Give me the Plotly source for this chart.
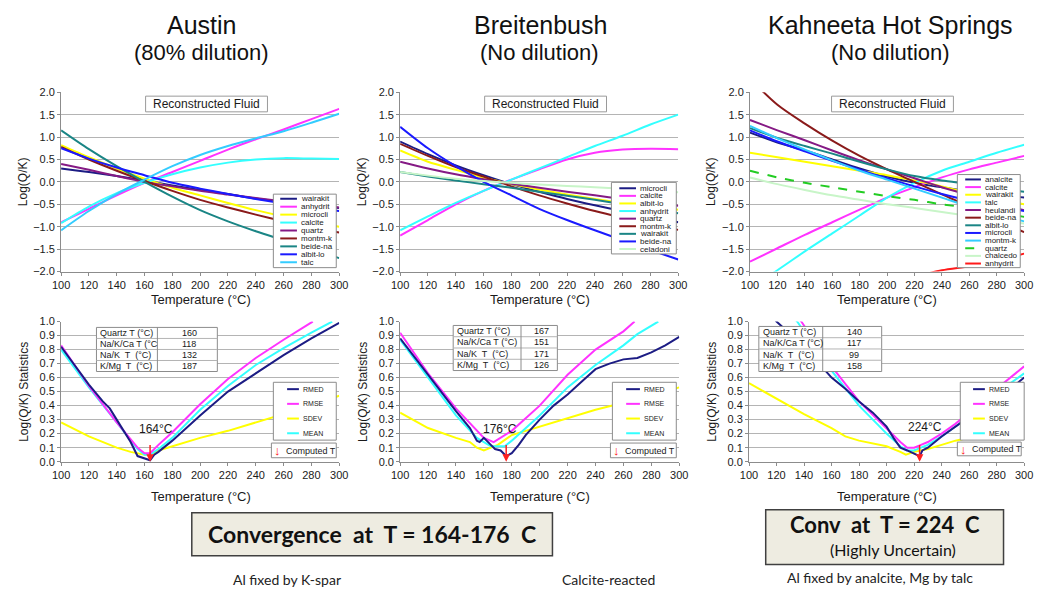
import plotly.graph_objects as go

W, H = 1043, 598

TEMP = [100, 120, 140, 160, 180, 200, 220, 240, 260, 280, 300]

# ---------------- Austin: saturation indices ----------------
AUS_NAMES = ["wairakit", "anhydrit", "microcli", "calcite", "quartz",
             "montm-k", "beide-na", "albit-lo", "talc"]
aus_wairakit = [0.30, 0.22, 0.13, 0.03, -0.08, -0.18, -0.27, -0.37, -0.45, -0.52, -0.58]
aus_anhydrit = [-0.90, -0.60, -0.30, -0.02, 0.22, 0.47, 0.72, 0.95, 1.17, 1.40, 1.63]
aus_microcli = [0.82, 0.55, 0.30, 0.07, -0.13, -0.30, -0.47, -0.63, -0.77, -0.89, -1.00]
aus_calcite = [-0.92, -0.55, -0.25, -0.02, 0.17, 0.32, 0.43, 0.50, 0.53, 0.52, 0.51]
aus_quartz = [0.40, 0.27, 0.13, 0.00, -0.10, -0.20, -0.28, -0.36, -0.43, -0.50, -0.57]
aus_montmk = [0.78, 0.50, 0.25, 0.02, -0.20, -0.40, -0.57, -0.73, -0.88, -1.02, -1.13]
aus_beidena = [1.15, 0.73, 0.35, 0.00, -0.33, -0.63, -0.88, -1.10, -1.30, -1.50, -1.70]
aus_albitlo = [0.75, 0.52, 0.32, 0.15, -0.02, -0.15, -0.27, -0.38, -0.48, -0.57, -0.65]
aus_talc = [-1.08, -0.65, -0.27, 0.05, 0.35, 0.60, 0.80, 0.97, 1.13, 1.32, 1.52]

# ---------------- Breitenbush: saturation indices ----------------
BRE_NAMES = ["microcli", "calcite", "albit-lo", "anhydrit", "quartz",
             "montm-k", "wairakit", "beide-na", "celadoni"]
bre_microcli = [0.90, 0.62, 0.37, 0.15, -0.05, -0.22, -0.38, -0.52, -0.65, -0.77, -0.90]
bre_calcite = [-1.20, -0.85, -0.50, -0.20, 0.05, 0.28, 0.50, 0.65, 0.72, 0.74, 0.73]
bre_albitlo = [0.70, 0.45, 0.27, 0.10, -0.05, -0.17, -0.28, -0.38, -0.47, -0.55, -0.62]
bre_anhydrit = [-1.08, -0.77, -0.47, -0.20, 0.05, 0.30, 0.55, 0.80, 1.03, 1.28, 1.50]
bre_quartz = [0.45, 0.30, 0.17, 0.06, -0.04, -0.13, -0.22, -0.30, -0.38, -0.46, -0.53]
bre_montmk = [0.85, 0.58, 0.33, 0.12, -0.10, -0.30, -0.48, -0.65, -0.80, -0.94, -1.07]
bre_wairakit = [0.22, 0.12, 0.03, -0.05, -0.13, -0.22, -0.31, -0.40, -0.50, -0.60, -0.70]
bre_beidena = [1.23, 0.75, 0.35, 0.00, -0.30, -0.60, -0.85, -1.08, -1.30, -1.52, -1.73]
bre_celadoni = [0.22, 0.14, 0.07, 0.02, -0.02, -0.06, -0.09, -0.12, -0.15, -0.19, -0.23]

# ---------------- Kahneeta Hot Springs: saturation indices ----------------
KAH_NAMES = ["analcite", "calcite", "wairakit", "talc", "heulandi", "beide-na",
             "albit-lo", "microcli", "montm-k", "quartz", "chalcedo", "anhydrit"]
kah_analcite = [1.10, 0.88, 0.70, 0.50, 0.30, 0.12, -0.02, -0.12, -0.22, -0.29, -0.35]
kah_calcite = [-1.78, -1.48, -1.18, -0.90, -0.62, -0.35, -0.12, 0.10, 0.28, 0.43, 0.58]
kah_wairakit = [0.65, 0.55, 0.45, 0.35, 0.25, 0.15, 0.03, -0.10, -0.25, -0.38, -0.50]
kah_talc = [-2.35, -1.97, -1.55, -1.15, -0.75, -0.35, -0.02, 0.25, 0.45, 0.65, 0.83]
kah_heulandi = [1.38, 1.15, 0.93, 0.70, 0.48, 0.28, 0.08, -0.12, -0.30, -0.48, -0.63]
kah_beidena = [2.30, 1.72, 1.30, 0.92, 0.58, 0.28, 0.00, -0.28, -0.55, -0.85, -1.12]
kah_albitlo = [1.20, 0.98, 0.80, 0.63, 0.45, 0.28, 0.13, 0.03, -0.05, -0.14, -0.22]
kah_microcli = [1.15, 0.90, 0.68, 0.47, 0.27, 0.08, -0.10, -0.27, -0.42, -0.55, -0.65]
kah_montmk = [1.25, 0.97, 0.72, 0.48, 0.25, 0.05, -0.15, -0.35, -0.55, -0.72, -0.88]
kah_quartz = [0.25, 0.10, -0.02, -0.12, -0.22, -0.32, -0.40, -0.50, -0.58, -0.68, -0.78]
kah_chalcedo = [0.10, -0.05, -0.18, -0.30, -0.40, -0.50, -0.58, -0.67, -0.76, -0.85, -0.93]
KAH_ANHY_T = [220, 240, 260, 280, 300]
kah_anhydrit = [-2.12, -1.97, -1.88, -1.76, -1.60]

# ---------------- Statistics: Austin ----------------
AUS_RMED_T = [100, 120, 130, 135, 140, 150, 155, 158, 162, 164, 167, 170, 180, 200, 220, 240, 260, 280, 300]
aus_rmed = [0.82, 0.55, 0.43, 0.38, 0.30, 0.14, 0.04, 0.03, 0.02, 0.01, 0.05, 0.07, 0.15, 0.33, 0.50, 0.63, 0.76, 0.88, 0.99]
AUS_RMSE_T = [100, 120, 140, 155, 160, 164, 170, 180, 200, 220, 240, 260, 281]
aus_rmse = [0.83, 0.54, 0.28, 0.10, 0.06, 0.06, 0.12, 0.21, 0.41, 0.59, 0.74, 0.87, 1.00]
AUS_SDEV_T = [100, 120, 140, 150, 160, 165, 170, 180, 200, 220, 240, 260, 280, 300]
aus_sdev = [0.28, 0.18, 0.10, 0.07, 0.05, 0.05, 0.08, 0.11, 0.17, 0.22, 0.28, 0.34, 0.40, 0.47]
AUS_MEAN_T = [100, 120, 140, 155, 160, 164, 170, 180, 200, 220, 240, 260, 280, 295]
aus_mean = [0.80, 0.53, 0.28, 0.09, 0.05, 0.05, 0.09, 0.17, 0.37, 0.54, 0.69, 0.81, 0.92, 1.00]

# ---------------- Statistics: Breitenbush ----------------
BRE_RMED_T = [100, 120, 140, 150, 155, 157, 160, 165, 168, 172, 176, 180, 185, 190, 200, 210, 220, 230, 240, 250, 260, 270, 280, 290, 300]
bre_rmed = [0.88, 0.62, 0.36, 0.24, 0.15, 0.14, 0.17, 0.12, 0.09, 0.08, 0.04, 0.06, 0.12, 0.19, 0.30, 0.40, 0.48, 0.57, 0.66, 0.70, 0.73, 0.74, 0.78, 0.83, 0.89]
BRE_RMSE_T = [100, 120, 140, 155, 160, 167, 175, 180, 200, 220, 240, 260, 268]
bre_rmse = [0.92, 0.63, 0.38, 0.22, 0.17, 0.14, 0.19, 0.22, 0.40, 0.62, 0.80, 0.93, 1.00]
BRE_SDEV_T = [100, 120, 140, 150, 155, 160, 165, 170, 180, 200, 220, 240, 260, 280, 300]
bre_sdev = [0.35, 0.24, 0.17, 0.14, 0.10, 0.08, 0.10, 0.12, 0.19, 0.25, 0.31, 0.37, 0.42, 0.47, 0.53]
BRE_MEAN_T = [100, 120, 140, 155, 165, 175, 180, 200, 220, 240, 260, 270, 285]
bre_mean = [0.87, 0.60, 0.33, 0.17, 0.11, 0.11, 0.15, 0.33, 0.53, 0.69, 0.83, 0.91, 1.00]

# ---------------- Statistics: Kahneeta ----------------
KAH_RMED_T = [100, 120, 140, 160, 170, 180, 190, 200, 205, 210, 215, 220, 224, 226, 230, 240, 250, 260, 270, 280, 290, 300]
kah_rmed = [1.25, 1.00, 0.82, 0.60, 0.52, 0.43, 0.35, 0.25, 0.17, 0.10, 0.08, 0.06, 0.04, 0.08, 0.10, 0.18, 0.25, 0.32, 0.38, 0.45, 0.52, 0.60]
KAH_RMSE_T = [100, 120, 138, 160, 180, 200, 210, 215, 220, 225, 230, 240, 250, 260, 270, 280, 290, 300]
kah_rmse = [1.45, 1.22, 1.00, 0.68, 0.43, 0.24, 0.14, 0.10, 0.10, 0.12, 0.14, 0.20, 0.27, 0.35, 0.43, 0.52, 0.60, 0.68]
KAH_SDEV_T = [100, 120, 140, 160, 170, 180, 190, 200, 210, 214, 220, 230, 240, 250, 260, 280, 300]
kah_sdev = [0.56, 0.45, 0.34, 0.24, 0.18, 0.15, 0.13, 0.11, 0.07, 0.05, 0.07, 0.09, 0.12, 0.15, 0.17, 0.21, 0.28]
KAH_MEAN_T = [100, 120, 135, 160, 180, 200, 210, 215, 220, 225, 230, 240, 250, 260, 270, 280, 290, 300]
kah_mean = [1.40, 1.17, 1.00, 0.65, 0.40, 0.20, 0.11, 0.08, 0.08, 0.10, 0.12, 0.18, 0.25, 0.32, 0.40, 0.48, 0.56, 0.63]

# Computed temperatures
COMPUTED_T = [164, 176, 224]

# Geothermometer tables
GEO_LABELS_AUS = ["Quartz T (°C)", "Na/K/Ca T (°C", "Na/K  T  (°C)", "K/Mg  T  (°C)"]
GEO_LABELS = ["Quartz T (°C)", "Na/K/Ca T (°C)", "Na/K  T  (°C)", "K/Mg  T  (°C)"]
aus_geo = [160, 118, 132, 187]
bre_geo = [167, 151, 171, 126]
kah_geo = [140, 117, 99, 158]

# Excel-style palette
NAVY, MAGENTA, YELLOW, CYAN = "#1c1c84", "#ff33ff", "#ffff00", "#33ffff"
PURPLE, DKRED, TEAL, BLUE = "#851a85", "#8a1a1a", "#1a8585", "#1a1aff"
SKY, LTGREEN, GREEN, RED = "#33ccff", "#c8f5c8", "#22cc22", "#ff1a1a"

AXFONT = "Liberation Sans, Arial, sans-serif"
HEADFONT = "Lato, 'Open Sans', sans-serif"


def px(x):
    return x / W


def py(y):
    return 1 - y / H


fig = go.Figure()
shapes = []
annotations = []


def add_series(ax, xs, ys, color, name, dash="solid", width=2, shape="spline"):
    suffix = "" if ax == 1 else str(ax)
    fig.add_trace(go.Scatter(
        x=xs, y=ys, mode="lines", name=name, showlegend=False,
        line=dict(color=color, width=width, dash=dash, shape=shape, smoothing=0.8),
        xaxis="x" + suffix, yaxis="y" + suffix, hoverinfo="skip"))


# ---- saturation-index panels ----
aus_series = [aus_wairakit, aus_anhydrit, aus_microcli, aus_calcite, aus_quartz,
              aus_montmk, aus_beidena, aus_albitlo, aus_talc]
aus_colors = [NAVY, MAGENTA, YELLOW, CYAN, PURPLE, DKRED, TEAL, BLUE, SKY]
for name, ys, c in zip(AUS_NAMES, aus_series, aus_colors):
    add_series(1, TEMP, ys, c, name)

bre_series = [bre_microcli, bre_calcite, bre_albitlo, bre_anhydrit, bre_quartz,
              bre_montmk, bre_wairakit, bre_beidena, bre_celadoni]
bre_colors = [NAVY, MAGENTA, YELLOW, CYAN, PURPLE, DKRED, TEAL, BLUE, LTGREEN]
for name, ys, c in zip(BRE_NAMES, bre_series, bre_colors):
    add_series(2, TEMP, ys, c, name)

kah_series = [kah_analcite, kah_calcite, kah_wairakit, kah_talc, kah_heulandi, kah_beidena,
              kah_albitlo, kah_microcli, kah_montmk, kah_quartz, kah_chalcedo]
kah_colors = [NAVY, MAGENTA, YELLOW, CYAN, PURPLE, DKRED, TEAL, BLUE, SKY, GREEN, LTGREEN, RED]
kah_dashes = ["solid"] * 9 + ["dash", "solid", "solid"]
for name, ys, c, d in zip(KAH_NAMES[:-1], kah_series, kah_colors, kah_dashes):
    add_series(3, TEMP, ys, c, name, dash=d)
add_series(3, KAH_ANHY_T, kah_anhydrit, RED, "anhydrit")

# ---- statistics panels ----
STAT_NAMES = ["RMED", "RMSE", "SDEV", "MEAN"]
STAT_COLORS = [NAVY, MAGENTA, YELLOW, CYAN]
stat_sets = [
    (4, [(AUS_SDEV_T, aus_sdev), (AUS_MEAN_T, aus_mean), (AUS_RMSE_T, aus_rmse), (AUS_RMED_T, aus_rmed)]),
    (5, [(BRE_SDEV_T, bre_sdev), (BRE_MEAN_T, bre_mean), (BRE_RMSE_T, bre_rmse), (BRE_RMED_T, bre_rmed)]),
    (6, [(KAH_SDEV_T, kah_sdev), (KAH_MEAN_T, kah_mean), (KAH_RMSE_T, kah_rmse), (KAH_RMED_T, kah_rmed)]),
]
draw_order = ["SDEV", "MEAN", "RMSE", "RMED"]
for ax, sets in stat_sets:
    for nm, (xs, ys) in zip(draw_order, sets):
        add_series(ax, xs, ys, STAT_COLORS[STAT_NAMES.index(nm)], nm, width=2, shape="linear")

# ---- axes ----
top_dom_y = [py(271), py(88)]
bot_dom_y = [py(465), py(322)]
x_doms = [[53, 336], [398, 681], [754, 1033], [53, 336], [398, 682], [753, 1033]]

layout_axes = {}
for i in range(6):
    n = i + 1
    sx = "xaxis" if n == 1 else "xaxis%d" % n
    sy = "yaxis" if n == 1 else "yaxis%d" % n
    anchor_x = "y" if n == 1 else "y%d" % n
    anchor_y = "x" if n == 1 else "x%d" % n
    layout_axes[sx] = dict(
        domain=[px(x_doms[i][0]), px(x_doms[i][1])], anchor=anchor_x,
        range=[100, 300], tickmode="linear", tick0=100, dtick=20,
        showgrid=False, zeroline=False, showline=True, linecolor="#8c8c8c", linewidth=1,
        ticks="outside", ticklen=3, tickcolor="#8c8c8c",
        tickfont=dict(family=AXFONT, size=11, color="#1a1a1a"))
    if n <= 3:
        yd = dict(domain=top_dom_y, range=[-2, 2], dtick=0.5, tick0=-2)
    else:
        yd = dict(domain=bot_dom_y, range=[0, 1], dtick=0.1, tick0=0)
    yd.update(anchor=anchor_y, tickmode="linear", tickformat=".1f",
              showgrid=True, gridcolor="#b4b4b4", gridwidth=1, zeroline=False,
              showline=True, linecolor="#8c8c8c", linewidth=1,
              ticks="outside", ticklen=3, tickcolor="#8c8c8c",
              tickfont=dict(family=AXFONT, size=11, color="#1a1a1a"))
    layout_axes[sy] = yd


def text(x, y, s, size=11, family=AXFONT, color="#1a1a1a", xanchor="center", angle=0, bold=False):
    annotations.append(dict(
        x=px(x), y=py(y), xref="paper", yref="paper", text=("<b>%s</b>" % s) if bold else s,
        showarrow=False, xanchor=xanchor, yanchor="middle", textangle=angle,
        font=dict(family=family, size=size, color=color)))


def rect(x0, y0, x1, y1, fill="white", line="#8c8c8c", width=1):
    shapes.append(dict(type="rect", xref="paper", yref="paper", layer="above",
                       x0=px(x0), x1=px(x1), y0=py(y1), y1=py(y0),
                       fillcolor=fill, line=dict(color=line, width=width)))


def hline(x0, x1, y, color, width=2, dash="solid"):
    shapes.append(dict(type="line", xref="paper", yref="paper", layer="above",
                       x0=px(x0), x1=px(x1), y0=py(y), y1=py(y),
                       line=dict(color=color, width=width, dash=dash)))


def vline(x, y0, y1, color="#8c8c8c", width=1):
    shapes.append(dict(type="line", xref="paper", yref="paper", layer="above",
                       x0=px(x), x1=px(x), y0=py(y0), y1=py(y1),
                       line=dict(color=color, width=width)))


def legend(box, names, colors, dashes, first_y, step, sx0, sx1, size=8):
    rect(*box)
    for i, (nm, c, d) in enumerate(zip(names, colors, dashes)):
        yy = first_y + i * step
        hline(sx0, sx1, yy, c, 2, d)
        text(sx1 + 2, yy, nm, size=size, xanchor="left")


# panel headings
text(196, 19, "Austin", size=25, color="#111")
text(196, 47, "(80% dilution)", size=22, color="#111")
text(541, 19, "Breitenbush", size=25, color="#111")
text(540, 47, "(No dilution)", size=22, color="#111")
text(897, 19, "Kahneeta Hot Springs", size=25, color="#111")
text(897, 47, "(No dilution)", size=22, color="#111")

# axis titles
for cx, lx in [(195, 15), (540, 360), (893, 715)]:
    text(cx, 300, "Temperature (°C)", size=13)
    text(cx, 501, "Temperature (°C)", size=13)
    text(lx, 179, "Log(Q/K)", size=12, angle=-90)
    text(lx, 394, "Log(Q/K) Statistics", size=12, angle=-90)

# "Reconstructed Fluid" labels
for x0 in (139, 484, 837):
    rect(x0, 92, x0 + 124, 108, fill="white", line="#9a9a9a")
    text(x0 + 62, 100, "Reconstructed Fluid", size=12)

# mineral legends
legend((269, 192, 333, 267), AUS_NAMES, aus_colors, ["solid"] * 9, 196.7, 8.1, 276, 293)
legend((613, 180, 679, 253), BRE_NAMES, bre_colors, ["solid"] * 9, 186, 7.75, 621, 638)
legend((965, 172, 1029, 267), KAH_NAMES, kah_colors, kah_dashes, 177, 7.8, 973, 989)

# statistics legends and "Computed T" keys
for bx0, bx1, sx0, sx1, cb in [(269, 333, 283, 295, (267, 446, 333, 461)),
                               (614, 679, 628, 642, (612, 446, 679, 461)),
                               (968, 1033, 981, 993, (965, 445, 1030, 459))]:
    legend((bx0, 384, bx1, 443), STAT_NAMES, STAT_COLORS, ["solid"] * 4, 391, 15, sx0, sx1, size=7)
    rect(*cb)
    cy = (cb[1] + cb[3]) / 2 + 0.5
    text(cb[0] + 6, cy, "↓", size=13, color="#ff2020")
    text(cb[0] + 13, cy, "Computed T", size=9, xanchor="left")

# geothermometer tables
for (x0, xd, x1, y0, y1), labels, vals in [((89, 151, 212, 328, 373), GEO_LABELS_AUS, aus_geo),
                                            ((452, 521, 558, 326, 372), GEO_LABELS, bre_geo),
                                            ((763, 828, 888, 327, 373), GEO_LABELS, kah_geo)]:
    rect(x0, y0, x1, y1, fill="white", line="#8c8c8c")
    rh = (y1 - y0) / 4
    for r in range(1, 4):
        hline(x0, x1, y0 + r * rh, "#b4b4b4", 1)
    vline(xd, y0, y1)
    for r, (lab, v) in enumerate(zip(labels, vals)):
        yy = y0 + (r + 0.5) * rh
        text(x0 + 2, yy, lab, size=9, xanchor="left")
        text((xd + x1) / 2 + 2, yy, str(v), size=9)

# computed temperature arrows and labels
for ax, t, (lx, ly) in [(4, COMPUTED_T[0], (168.5, 0.235)),
                        (5, COMPUTED_T[1], (171.8, 0.23)),
                        (6, COMPUTED_T[2], (227.9, 0.246))]:
    annotations.append(dict(x=t, y=0.0, ax=t, ay=0.13, xref="x%d" % ax, yref="y%d" % ax,
                            axref="x%d" % ax, ayref="y%d" % ax, text="", showarrow=True,
                            arrowhead=2, arrowsize=1, arrowwidth=1.5, arrowcolor="#ff2020"))
    annotations.append(dict(x=lx, y=ly, xref="x%d" % ax, yref="y%d" % ax, text="%d°C" % t,
                            showarrow=False, font=dict(family=AXFONT, size=12, color="#1a1a1a")))

# conclusion boxes
rect(186, 517, 553, 561, fill="#eeece1", line="#404040", width=1.5)
text(369, 539, "Convergence  at  T = 164-176  C", size=23, family=HEADFONT, color="#111", bold=True)
rect(770, 514, 1012, 570, fill="#eeece1", line="#404040", width=1.5)
text(891, 529, "Conv  at  T = 224  C", size=22, family=HEADFONT, color="#111", bold=True)
text(900, 555, "(Highly Uncertain)", size=16, family=HEADFONT, color="#111")

text(283, 585, "Al fixed by K-spar", size=14, family=HEADFONT, color="#222")
text(610, 585, "Calcite-reacted", size=14, family=HEADFONT, color="#222")
text(886, 583, "Al fixed by analcite, Mg by talc", size=14, family=HEADFONT, color="#222")

fig.update_layout(
    width=W, height=H, margin=dict(l=0, r=0, t=0, b=0),
    paper_bgcolor="white", plot_bgcolor="white", showlegend=False,
    shapes=shapes, annotations=annotations, **layout_axes)

fig.write_html("out.html")
